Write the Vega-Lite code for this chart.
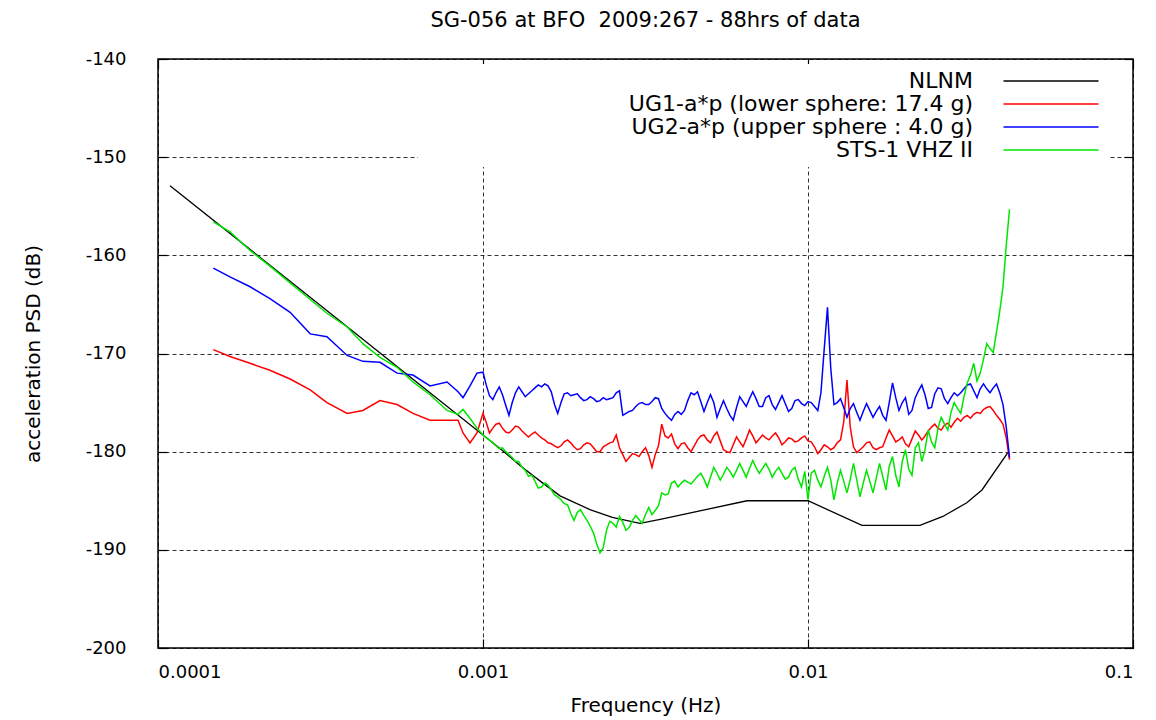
{
"$schema":"https://vega.github.io/schema/vega-lite/v6.json",
"width":975,"height":589,
"autosize":{"type":"none"},
"padding":{"left":158,"top":59,"right":23,"bottom":72},
"background":"white",
"title":{"text":"SG-056 at BFO\u00a0 2009:267 - 88hrs of data","font":"DejaVu Sans","fontSize":21,"fontWeight":"normal","color":"black","offset":19,"anchor":"middle"},
"datasets":{
"nlnm":[
{"f":0.0001089,"nlnm":-152.9},{"f":0.001,"nlnm":-178.3},{"f":0.00115,"nlnm":-179.9},{"f":0.0013,"nlnm":-181.4},{"f":0.0015,"nlnm":-183.0},{"f":0.001726,"nlnm":-184.5},{"f":0.002133,"nlnm":-185.9},{"f":0.0025,"nlnm":-186.7},{"f":0.00304,"nlnm":-187.3},{"f":0.00351,"nlnm":-186.9},{"f":0.00649,"nlnm":-185.0},{"f":0.01,"nlnm":-185.0},{"f":0.01466,"nlnm":-187.5},{"f":0.0221,"nlnm":-187.5},{"f":0.026,"nlnm":-186.6},{"f":0.0308,"nlnm":-185.2},{"f":0.0343,"nlnm":-183.9},{"f":0.0412,"nlnm":-180.1}
],
"noise":[
{"f":0.000148,"ug1":-169.6,"ug2":-161.3,"sts":-156.6},
{"f":0.0001665,"ug1":-170.3,"ug2":-162.2,"sts":-157.6},
{"f":0.000192,"ug1":-171.0,"ug2":-163.2,"sts":-159.5},
{"f":0.000221,"ug1":-171.7,"ug2":-164.4,"sts":-161.1},
{"f":0.000255,"ug1":-172.6,"ug2":-165.8,"sts":-162.8},
{"f":0.000294,"ug1":-173.7,"ug2":-168.0,"sts":-164.5},
{"f":0.000331,"ug1":-175.0,"ug2":-168.3,"sts":-165.9},
{"f":0.000382,"ug1":-176.1,"ug2":-170.2,"sts":-167.3},
{"f":0.000427,"ug1":-175.8,"ug2":-170.8,"sts":-169.0},
{"f":0.000482,"ug1":-174.8,"ug2":-170.9,"sts":-170.4},
{"f":0.000544,"ug1":-175.2,"ug2":-172.0,"sts":-171.4},
{"f":0.000609,"ug1":-176.1,"ug2":-172.2,"sts":-172.9},
{"f":0.000687,"ug1":-176.8,"ug2":-173.3,"sts":-174.2},
{"f":0.000775,"ug1":-176.8,"ug2":-172.9,"sts":-175.8},
{"f":0.000838,"ug1":-176.8,"ug2":-173.9,"sts":-176.2},
{"f":0.000868,"ug1":-178.1,"ug2":-174.5,"sts":-175.7},
{"f":0.000912,"ug1":-179.1,"ug2":-173.3,"sts":-176.6},
{"f":0.000958,"ug1":-178.1,"ug2":-172.0,"sts":-177.6},
{"f":0.001,"ug1":-176.1,"ug2":-171.9,"sts":-178.3},
{"f":0.001023,"ug1":-177.0,"ug2":-173.2,"sts":-178.6},
{"f":0.001047,"ug1":-178.1,"ug2":-174.3,"sts":-178.8},
{"f":0.001072,"ug1":-177.6,"ug2":-174.7,"sts":-179.1},
{"f":0.001096,"ug1":-177.2,"ug2":-174.0,"sts":-179.4},
{"f":0.001122,"ug1":-177.1,"ug2":-173.4,"sts":-179.7},
{"f":0.001148,"ug1":-177.6,"ug2":-174.2,"sts":-179.6},
{"f":0.001175,"ug1":-178.0,"ug2":-175.3,"sts":-180.0},
{"f":0.001202,"ug1":-178.1,"ug2":-176.3,"sts":-180.3},
{"f":0.00123,"ug1":-177.8,"ug2":-175.0,"sts":-180.6},
{"f":0.001259,"ug1":-177.4,"ug2":-174.0,"sts":-181.0},
{"f":0.001288,"ug1":-177.5,"ug2":-173.4,"sts":-181.0},
{"f":0.001318,"ug1":-177.9,"ug2":-173.9,"sts":-181.6},
{"f":0.001349,"ug1":-178.2,"ug2":-174.4,"sts":-181.9},
{"f":0.00138,"ug1":-178.5,"ug2":-174.1,"sts":-182.5},
{"f":0.001413,"ug1":-178.2,"ug2":-173.8,"sts":-182.4},
{"f":0.001445,"ug1":-178.0,"ug2":-173.5,"sts":-183.0},
{"f":0.001479,"ug1":-178.3,"ug2":-173.2,"sts":-183.7},
{"f":0.001514,"ug1":-178.6,"ug2":-173.4,"sts":-183.6},
{"f":0.001549,"ug1":-178.8,"ug2":-173.1,"sts":-183.2},
{"f":0.001585,"ug1":-179.1,"ug2":-173.3,"sts":-183.4},
{"f":0.001622,"ug1":-179.2,"ug2":-173.9,"sts":-183.9},
{"f":0.00166,"ug1":-179.4,"ug2":-175.2,"sts":-184.4},
{"f":0.001698,"ug1":-179.6,"ug2":-176.1,"sts":-184.6},
{"f":0.001738,"ug1":-179.4,"ug2":-175.0,"sts":-184.9},
{"f":0.001778,"ug1":-179.0,"ug2":-174.1,"sts":-185.3},
{"f":0.00182,"ug1":-178.8,"ug2":-174.0,"sts":-185.4},
{"f":0.001862,"ug1":-179.1,"ug2":-174.3,"sts":-186.3},
{"f":0.001905,"ug1":-179.5,"ug2":-174.2,"sts":-187.0},
{"f":0.00195,"ug1":-179.8,"ug2":-174.1,"sts":-186.2},
{"f":0.001995,"ug1":-179.7,"ug2":-174.5,"sts":-185.9},
{"f":0.002042,"ug1":-179.3,"ug2":-174.8,"sts":-186.5},
{"f":0.002089,"ug1":-179.1,"ug2":-174.7,"sts":-187.0},
{"f":0.002138,"ug1":-179.2,"ug2":-174.4,"sts":-187.6},
{"f":0.002188,"ug1":-179.6,"ug2":-174.6,"sts":-188.3},
{"f":0.002239,"ug1":-180.0,"ug2":-174.9,"sts":-189.4},
{"f":0.002291,"ug1":-180.0,"ug2":-174.8,"sts":-190.3},
{"f":0.002344,"ug1":-179.5,"ug2":-174.5,"sts":-189.8},
{"f":0.002399,"ug1":-179.3,"ug2":-174.7,"sts":-188.0},
{"f":0.002455,"ug1":-179.1,"ug2":-174.6,"sts":-187.1},
{"f":0.002512,"ug1":-179.0,"ug2":-174.5,"sts":-187.3},
{"f":0.00257,"ug1":-178.3,"ug2":-174.0,"sts":-187.7},
{"f":0.00263,"ug1":-179.6,"ug2":-173.8,"sts":-186.6},
{"f":0.002692,"ug1":-180.3,"ug2":-176.3,"sts":-187.2},
{"f":0.002754,"ug1":-181.0,"ug2":-176.1,"sts":-188.0},
{"f":0.002818,"ug1":-180.6,"ug2":-175.9,"sts":-187.7},
{"f":0.002884,"ug1":-180.2,"ug2":-175.8,"sts":-187.0},
{"f":0.002951,"ug1":-180.3,"ug2":-175.4,"sts":-186.5},
{"f":0.00302,"ug1":-180.5,"ug2":-175.1,"sts":-186.9},
{"f":0.00309,"ug1":-180.0,"ug2":-175.0,"sts":-187.3},
{"f":0.003162,"ug1":-179.6,"ug2":-175.2,"sts":-186.4},
{"f":0.003236,"ug1":-180.4,"ug2":-175.2,"sts":-185.7},
{"f":0.003311,"ug1":-181.6,"ug2":-174.9,"sts":-186.4},
{"f":0.003388,"ug1":-180.3,"ug2":-174.5,"sts":-186.0},
{"f":0.003467,"ug1":-179.4,"ug2":-174.6,"sts":-185.5},
{"f":0.003548,"ug1":-177.2,"ug2":-175.6,"sts":-184.2},
{"f":0.003631,"ug1":-178.4,"ug2":-176.1,"sts":-184.4},
{"f":0.003715,"ug1":-178.6,"ug2":-176.5,"sts":-184.3},
{"f":0.003802,"ug1":-178.2,"ug2":-176.8,"sts":-183.2},
{"f":0.00389,"ug1":-179.2,"ug2":-176.2,"sts":-183.0},
{"f":0.003981,"ug1":-179.7,"ug2":-175.9,"sts":-183.6},
{"f":0.004074,"ug1":-179.2,"ug2":-176.2,"sts":-183.2},
{"f":0.004169,"ug1":-179.1,"ug2":-175.8,"sts":-182.9},
{"f":0.004266,"ug1":-179.6,"ug2":-174.8,"sts":-183.1},
{"f":0.004365,"ug1":-180.0,"ug2":-174.0,"sts":-183.3},
{"f":0.004467,"ug1":-179.4,"ug2":-174.2,"sts":-182.9},
{"f":0.004571,"ug1":-178.8,"ug2":-173.9,"sts":-182.5},
{"f":0.004677,"ug1":-178.4,"ug2":-174.9,"sts":-182.2},
{"f":0.004786,"ug1":-178.3,"ug2":-175.9,"sts":-182.8},
{"f":0.004898,"ug1":-178.8,"ug2":-175.0,"sts":-183.6},
{"f":0.005012,"ug1":-179.1,"ug2":-174.2,"sts":-182.6},
{"f":0.005129,"ug1":-178.4,"ug2":-175.0,"sts":-181.6},
{"f":0.005248,"ug1":-178.0,"ug2":-176.5,"sts":-182.2},
{"f":0.00537,"ug1":-178.9,"ug2":-175.6,"sts":-182.9},
{"f":0.005495,"ug1":-179.8,"ug2":-174.8,"sts":-182.3},
{"f":0.005623,"ug1":-180.0,"ug2":-175.6,"sts":-181.6},
{"f":0.005754,"ug1":-180.1,"ug2":-176.3,"sts":-182.0},
{"f":0.005888,"ug1":-179.3,"ug2":-176.8,"sts":-182.6},
{"f":0.006026,"ug1":-178.5,"ug2":-175.5,"sts":-181.9},
{"f":0.006166,"ug1":-179.0,"ug2":-174.4,"sts":-181.2},
{"f":0.00631,"ug1":-179.5,"ug2":-174.9,"sts":-181.9},
{"f":0.006457,"ug1":-178.7,"ug2":-175.4,"sts":-182.6},
{"f":0.006607,"ug1":-177.8,"ug2":-174.6,"sts":-181.7},
{"f":0.006761,"ug1":-178.4,"ug2":-173.9,"sts":-180.9},
{"f":0.006918,"ug1":-179.1,"ug2":-174.6,"sts":-181.6},
{"f":0.007079,"ug1":-178.7,"ug2":-175.4,"sts":-182.2},
{"f":0.007244,"ug1":-178.3,"ug2":-175.4,"sts":-181.7},
{"f":0.007413,"ug1":-178.6,"ug2":-174.5,"sts":-181.2},
{"f":0.007586,"ug1":-178.8,"ug2":-174.3,"sts":-181.8},
{"f":0.007762,"ug1":-178.4,"ug2":-175.2,"sts":-182.6},
{"f":0.007943,"ug1":-178.1,"ug2":-175.7,"sts":-182.0},
{"f":0.008128,"ug1":-178.6,"ug2":-175.0,"sts":-181.6},
{"f":0.008318,"ug1":-179.3,"ug2":-174.3,"sts":-182.2},
{"f":0.008511,"ug1":-179.0,"ug2":-175.1,"sts":-182.8},
{"f":0.00871,"ug1":-178.6,"ug2":-175.9,"sts":-182.6},
{"f":0.008913,"ug1":-178.7,"ug2":-175.6,"sts":-181.9},
{"f":0.00912,"ug1":-179.0,"ug2":-174.8,"sts":-181.6},
{"f":0.009333,"ug1":-178.9,"ug2":-174.7,"sts":-182.8},
{"f":0.00955,"ug1":-178.6,"ug2":-175.1,"sts":-183.6},
{"f":0.009772,"ug1":-178.4,"ug2":-175.3,"sts":-182.0},
{"f":0.01,"ug1":-178.9,"ug2":-174.9,"sts":-184.9},
{"f":0.01023,"ug1":-179.0,"ug2":-175.0,"sts":-182.2},
{"f":0.01047,"ug1":-179.5,"ug2":-175.4,"sts":-181.9},
{"f":0.01072,"ug1":-180.2,"ug2":-175.8,"sts":-182.9},
{"f":0.01096,"ug1":-179.8,"ug2":-174.0,"sts":-183.6},
{"f":0.01122,"ug1":-179.3,"ug2":-169.5,"sts":-182.5},
{"f":0.01148,"ug1":-179.5,"ug2":-165.3,"sts":-181.6},
{"f":0.01175,"ug1":-179.8,"ug2":-171.5,"sts":-182.9},
{"f":0.01202,"ug1":-179.6,"ug2":-175.2,"sts":-184.9},
{"f":0.0123,"ug1":-179.1,"ug2":-175.0,"sts":-183.2},
{"f":0.01259,"ug1":-178.8,"ug2":-174.6,"sts":-181.9},
{"f":0.01288,"ug1":-177.0,"ug2":-175.5,"sts":-183.0},
{"f":0.01318,"ug1":-172.7,"ug2":-176.5,"sts":-184.2},
{"f":0.01349,"ug1":-177.5,"ug2":-175.6,"sts":-182.8},
{"f":0.0138,"ug1":-179.5,"ug2":-175.1,"sts":-181.2},
{"f":0.01413,"ug1":-180.1,"ug2":-176.0,"sts":-182.9},
{"f":0.01445,"ug1":-179.8,"ug2":-176.8,"sts":-184.6},
{"f":0.01479,"ug1":-179.5,"ug2":-175.9,"sts":-183.2},
{"f":0.01514,"ug1":-179.1,"ug2":-175.1,"sts":-181.9},
{"f":0.01549,"ug1":-179.0,"ug2":-175.8,"sts":-183.0},
{"f":0.01585,"ug1":-179.6,"ug2":-176.5,"sts":-184.2},
{"f":0.01622,"ug1":-179.8,"ug2":-175.9,"sts":-182.7},
{"f":0.0166,"ug1":-179.6,"ug2":-175.4,"sts":-181.2},
{"f":0.01698,"ug1":-179.5,"ug2":-176.3,"sts":-182.5},
{"f":0.01738,"ug1":-178.6,"ug2":-176.8,"sts":-183.9},
{"f":0.01778,"ug1":-177.8,"ug2":-175.0,"sts":-181.5},
{"f":0.0182,"ug1":-178.4,"ug2":-173.0,"sts":-180.5},
{"f":0.01862,"ug1":-179.0,"ug2":-174.5,"sts":-182.4},
{"f":0.01905,"ug1":-178.8,"ug2":-175.8,"sts":-183.6},
{"f":0.0195,"ug1":-178.5,"ug2":-175.0,"sts":-181.0},
{"f":0.01995,"ug1":-179.2,"ug2":-174.5,"sts":-179.8},
{"f":0.02042,"ug1":-179.5,"ug2":-176.2,"sts":-181.8},
{"f":0.02089,"ug1":-178.7,"ug2":-175.8,"sts":-182.4},
{"f":0.02138,"ug1":-177.9,"ug2":-174.5,"sts":-179.6},
{"f":0.02188,"ug1":-178.3,"ug2":-173.8,"sts":-179.1},
{"f":0.02239,"ug1":-178.8,"ug2":-173.2,"sts":-181.0},
{"f":0.02291,"ug1":-178.4,"ug2":-174.2,"sts":-179.8},
{"f":0.02344,"ug1":-177.9,"ug2":-175.6,"sts":-177.8},
{"f":0.02399,"ug1":-177.5,"ug2":-175.5,"sts":-179.0},
{"f":0.02455,"ug1":-177.2,"ug2":-174.1,"sts":-179.6},
{"f":0.02512,"ug1":-177.6,"ug2":-173.5,"sts":-177.6},
{"f":0.0257,"ug1":-177.8,"ug2":-173.6,"sts":-176.5},
{"f":0.0263,"ug1":-177.3,"ug2":-174.6,"sts":-177.2},
{"f":0.02692,"ug1":-177.1,"ug2":-175.1,"sts":-177.8},
{"f":0.02754,"ug1":-177.5,"ug2":-174.5,"sts":-176.0},
{"f":0.02818,"ug1":-177.0,"ug2":-174.0,"sts":-175.0},
{"f":0.02884,"ug1":-176.6,"ug2":-174.3,"sts":-175.6},
{"f":0.02951,"ug1":-176.9,"ug2":-174.0,"sts":-176.1},
{"f":0.0302,"ug1":-176.5,"ug2":-173.6,"sts":-174.4},
{"f":0.0309,"ug1":-176.3,"ug2":-173.2,"sts":-173.0},
{"f":0.03162,"ug1":-176.6,"ug2":-173.1,"sts":-172.2},
{"f":0.03236,"ug1":-176.2,"ug2":-173.8,"sts":-171.0},
{"f":0.03311,"ug1":-176.0,"ug2":-174.5,"sts":-172.8},
{"f":0.03388,"ug1":-176.1,"ug2":-173.6,"sts":-172.0},
{"f":0.03467,"ug1":-175.7,"ug2":-173.1,"sts":-170.6},
{"f":0.03548,"ug1":-175.5,"ug2":-173.6,"sts":-169.0},
{"f":0.03631,"ug1":-175.4,"ug2":-174.0,"sts":-169.5},
{"f":0.03715,"ug1":-175.8,"ug2":-173.5,"sts":-169.9},
{"f":0.03802,"ug1":-176.3,"ug2":-173.1,"sts":-167.8},
{"f":0.0389,"ug1":-176.7,"ug2":-174.0,"sts":-165.7},
{"f":0.03981,"ug1":-177.2,"ug2":-175.2,"sts":-163.2},
{"f":0.04074,"ug1":-178.6,"ug2":-177.5,"sts":-159.0},
{"f":0.04169,"ug1":-180.8,"ug2":-180.6,"sts":-155.3}
]
},
"resolve":{"axis":{"x":"independent","y":"independent"}},
"layer":[
{
"data":{"name":"nlnm"},
"transform":[{"fold":["nlnm"],"as":["series","db"]}],
"mark":{"type":"line","strokeWidth":1.3},
"encoding":{
"x":{"field":"f","type":"quantitative","scale":{"type":"log","domain":[0.0001,0.1],"nice":false},
"axis":{"orient":"top","values":[0.0001,0.001,0.01,0.1],"labels":false,"grid":false,"tickSize":-9,"title":null}},
"y":{"field":"db","type":"quantitative","scale":{"domain":[-200,-140],"nice":false,"zero":false},
"axis":{"orient":"right","values":[-200,-190,-180,-170,-160,-150,-140],"labels":false,"grid":false,"tickSize":-9,"title":null}},
"color":{"field":"series","type":"nominal","scale":{"domain":["nlnm","ug1","ug2","sts"],"range":["#000000","#ff0000","#0000ff","#00e600"]},
"legend":{"title":"\u00a0","labelExpr":"datum.value == 'nlnm' ? 'NLNM' : datum.value == 'ug1' ? 'UG1-a*p (lower sphere: 17.4 g)' : datum.value == 'ug2' ? 'UG2-a*p (upper sphere : 4.0 g)' : 'STS-1 VHZ II'"}}
}
},
{
"data":{"name":"noise"},
"transform":[{"fold":["ug1","ug2","sts"],"as":["series","db"]}],
"mark":{"type":"line","strokeWidth":1.5},
"encoding":{
"x":{"field":"f","type":"quantitative","scale":{"type":"log","domain":[0.0001,0.1],"nice":false},
"axis":{"orient":"bottom","values":[0.0001,0.001,0.01,0.1],"labelExpr":"'' + datum.value","grid":true,"tickSize":-9,"labelPadding":24,"title":"Frequency (Hz)","titlePadding":14}},
"y":{"field":"db","type":"quantitative","scale":{"domain":[-200,-140],"nice":false,"zero":false},
"axis":{"orient":"left","values":[-200,-190,-180,-170,-160,-150,-140],"labelExpr":"'' + datum.value","grid":true,"tickSize":-9,"labelPadding":41,"title":"acceleration PSD (dB)","titlePadding":42}},
"color":{"field":"series","type":"nominal","scale":{"domain":["nlnm","ug1","ug2","sts"],"range":["#000000","#ff0000","#0000ff","#00e600"]},
"legend":{"title":"\u00a0","labelExpr":"datum.value == 'nlnm' ? 'NLNM' : datum.value == 'ug1' ? 'UG1-a*p (lower sphere: 17.4 g)' : datum.value == 'ug2' ? 'UG2-a*p (upper sphere : 4.0 g)' : 'STS-1 VHZ II'"}}
}
}
],
"config":{
"view":{"stroke":"black","strokeWidth":1.5},
"font":"DejaVu Sans",
"axis":{"labelFont":"DejaVu Sans","labelFontSize":18,"labelColor":"black","titleFont":"DejaVu Sans","titleFontSize":20,"titleFontWeight":"normal","titleColor":"black","domain":false,"tickColor":"black","tickWidth":1.2,"gridColor":"black","gridDash":[4,3],"gridOpacity":0.8,"gridWidth":1},
"legend":{"orient":"none","legendX":260,"legendY":5,"titleOrient":"left","titlePadding":100,"titleFontSize":8,"symbolType":"M-9.5,0H9.5","symbolSize":100,"symbolStrokeWidth":1.5,"symbolOffset":516,"labelAlign":"right","labelOffset":-89,"labelFont":"DejaVu Sans","labelFontSize":22,"labelColor":"black","labelLimit":700,"rowPadding":1,"padding":6,"fillColor":"white"}
}
}
